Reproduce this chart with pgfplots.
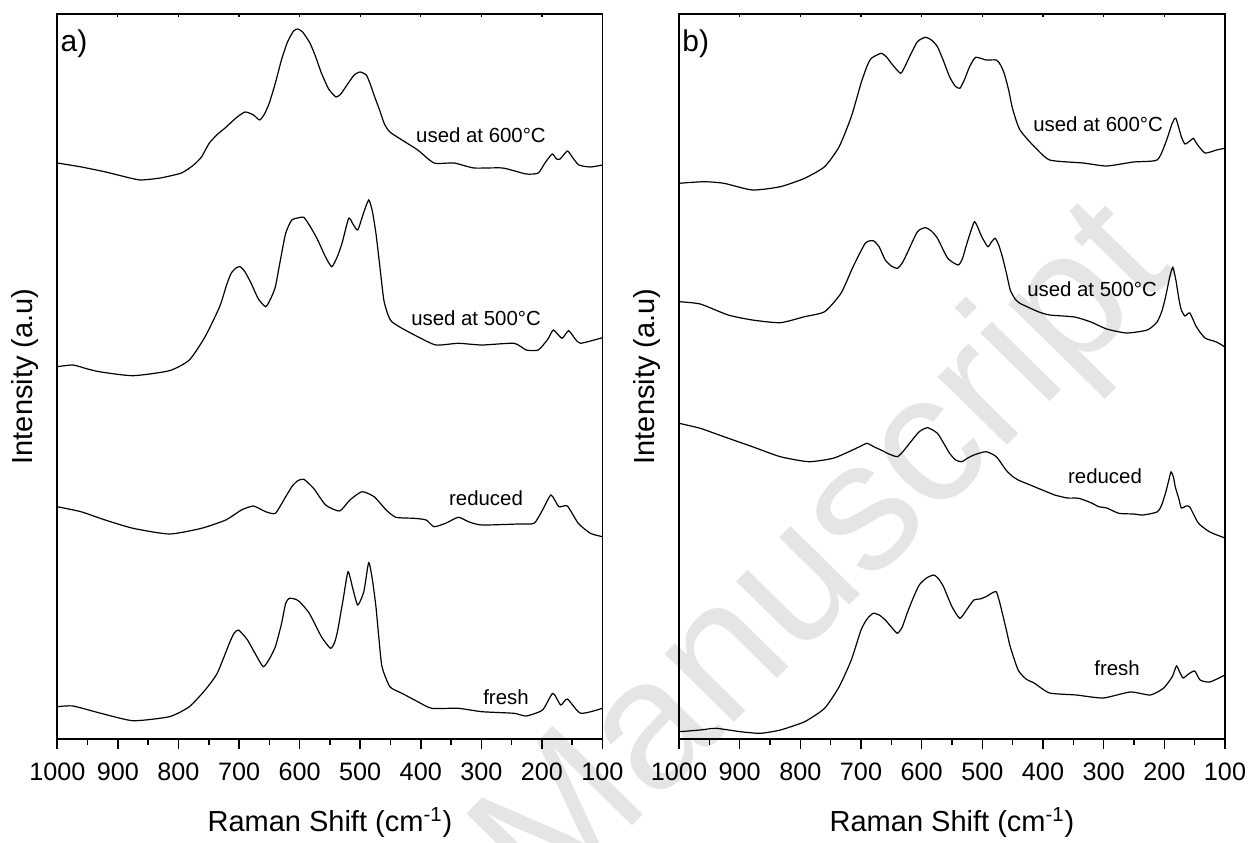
\documentclass[border=0pt]{standalone}
\usepackage{pgfplots}
\pgfplotsset{compat=1.18}
\usepackage{fontspec}
\setmainfont{Liberation Sans}
\begin{document}
\begin{tikzpicture}
\path[use as bounding box] (0,0) rectangle (625.5pt,421pt);
\node[anchor=base, rotate=45.5, text=black!10, font=\fontsize{92}{92}\selectfont, inner sep=0pt] at (431pt,124.5pt) {Manuscript};
\tikzset{
  lab/.style={anchor=base, font=\fontsize{10.2}{12}\selectfont, inner sep=0pt},
  pan/.style={anchor=base west, font=\fontsize{15}{17}\selectfont, inner sep=0pt, xshift=1.5pt, yshift=-19pt},
}
\pgfplotsset{
  spec/.style={
    scale only axis, height=362.5pt, anchor=south west,
    x dir=reverse, xmin=100, xmax=1000, ymin=0, ymax=725,
    xtick={100,200,...,1000}, minor x tick num=1,
    ytick=\empty, xtick pos=bottom,
    tick align=outside, major tick length=5pt, minor tick length=3pt,
    every tick/.style={black, line width=0.8pt},
    axis line style={line width=0.8pt},
    /pgf/number format/assume math mode=true,
    /pgf/number format/1000 sep={},
    xticklabel style={font=\fontsize{12.6}{14}\selectfont, anchor=base, yshift=-15.5pt},
    every axis x label/.style={at={(axis description cs:0.5,-0.1277)}, anchor=base, font=\fontsize{14.5}{16}\selectfont},
    xlabel={Raman Shift (cm\textsuperscript{-1})},
    ylabel={Intensity (a.u)},
    clip=false,
  },
  topticks/.style={
    scale only axis, height=362.5pt, anchor=south west,
    x dir=reverse, xmin=100, xmax=1000, ymin=0, ymax=725,
    xtick={100,200,...,1000}, xticklabels={}, ytick=\empty,
    xtick pos=top, tick align=inside, major tick length=1.5pt,
    every tick/.style={black, line width=0.6pt},
    axis line style={draw=none},
  },
  sp/.style={black, line width=0.6pt, smooth, tension=0.35},
}
% ---------------- panel a
\begin{axis}[topticks, at={(28.65pt,51.5pt)}, width=272.6pt]
\end{axis}
\begin{axis}[spec, at={(28.65pt,51.5pt)}, width=272.6pt,
  every axis y label/.style={at={(axis description cs:-0.0587,0.5)}, rotate=90, anchor=center, font=\fontsize{14.5}{16}\selectfont}]
\addplot[sp] coordinates {(1000,576) (960,572) (920,567) (880,561) (862,559) (830,561) (795,566) (775,574) (762,582) (749,596) (735,605) (723,611) (705,621) (690,627) (676,624) (666,619) (658,625) (650,636) (640,656) (630,679) (620,697) (610,708) (603,710) (595,707) (583,696) (574,683) (564,666) (552,650) (540,642) (532,645) (524,652) (510,664) (500,667) (490,664) (484,656) (476,642) (468,629) (460,615) (451,607) (431,599) (405,589) (378,576) (345,576) (312,571) (265,571) (226,565) (206,566) (195,576) (183,585) (176,580) (170,580) (158,588) (150,582) (139,574) (120,572) (100,574)};
\addplot[sp] coordinates {(1000,372.3) (974,374) (950,370) (928,367) (875,363.3) (815,368.3) (782,379) (756,402.3) (732,432.3) (720,455) (713,465.7) (705,471) (698,472.3) (690,467) (680,455.7) (668,440) (656,432.3) (648,440) (640,452.3) (632,478) (623,505.7) (613,519) (603,521) (593,521.7) (582,512) (570,499) (558,483) (547,472.3) (538,482) (530,495.7) (519,520.7) (512,515) (504,509) (495,525) (486,539) (480,528) (474,505.7) (468,475) (461,439) (454,424) (448,417.3) (431,410.7) (405,402.3) (375,394) (338,395.7) (299,394) (246,395.7) (226,389) (206,389) (190,400) (181,409) (167,400.7) (156,408.3) (145,400) (136,395.7) (100,401.3)};
\addplot[sp] coordinates {(1000,232.3) (961,227.3) (921,219) (875,210.7) (815,205) (762,210.7) (722,219) (696,229) (677,233) (665,230) (656,227.3) (640,225.7) (623,242.3) (612,253) (603,258.3) (593,259.7) (577,250.7) (557,234) (534,228) (517,239) (497,247.3) (477,242.3) (457,229) (441,221.7) (411,220.7) (391,219) (378,212.3) (358,216) (338,221.7) (320,217) (299,214) (239,215) (213,215.7) (199,229) (185,244) (172,232.3) (158,233) (140,215.7) (120,205.7) (100,202.3)};
\addplot[sp] coordinates {(1000,32.3) (974,33) (928,25.7) (875,18.3) (815,22.3) (782,32.3) (756,49) (736,65.7) (716,95.7) (708,106) (701,109) (694,105) (686,99) (672,84) (660,72.3) (650,80) (640,92.3) (630,115) (623,135.7) (617,140.7) (608,140) (600,137.3) (584,125.7) (564,102.3) (549,90.7) (542,97) (537,109) (528,140) (520,167.3) (512,150) (504,134) (494,147.3) (486,176.3) (480,160) (474,132.3) (469,100) (464,72.3) (451,52.3) (431,45.7) (405,37.3) (382,30.7) (338,30.7) (299,27.3) (246,25.7) (226,23) (199,29) (182,45.7) (169,34) (158,40) (136,25.7) (100,30.7)};
\node[lab] at (axis cs:300.6,596) {used at 600°C};
\node[lab] at (axis cs:308.8,414) {used at 500°C};
\node[lab] at (axis cs:292.3,234) {reduced};
\node[lab] at (axis cs:259.3,35) {fresh};
\node[pan] at (rel axis cs:0,1) {a)};
\end{axis}
% ---------------- panel b
\begin{axis}[topticks, at={(339.5pt,51.5pt)}, width=273pt]
\end{axis}
\begin{axis}[spec, at={(339.5pt,51.5pt)}, width=273pt,
  every axis y label/.style={at={(axis description cs:-0.0593,0.5)}, rotate=90, anchor=center, font=\fontsize{14.5}{16}\selectfont}]
\addplot[sp] coordinates {(1000,555.7) (959,557.3) (926,555.7) (879,549) (833,552.3) (793,560.7) (760,572.3) (736,592.3) (716,622.3) (700,655.7) (690,673) (683,680.7) (667,685.7) (658,682) (650,675.7) (635,665.7) (628,672) (620,682.3) (607,697.3) (594,701.7) (584,699) (574,692.3) (564,678) (554,662.3) (545,653) (537,650.7) (529,660) (521,672.3) (511,681.7) (494,679) (477,679) (470,674) (464,665.7) (457,650) (451,632.3) (444,618) (438,609) (426,600) (414,592.3) (389,579) (334,576) (295,573) (251,577) (212,579) (198,596) (187,615.7) (181,620.7) (172,602.3) (166,595) (158,598) (152,600.7) (147,595.7) (133,586) (114,589) (100,590.7)};
\addplot[sp] coordinates {(1000,437.3) (965,435) (919,424) (879,419) (833,416.3) (793,422.3) (760,427.3) (733,445.7) (713,472.3) (693,495.7) (680,498.3) (670,492) (660,479) (650,473) (640,470.7) (632,476) (624,485.7) (607,507.3) (594,511.3) (584,508) (574,500.7) (557,480.7) (540,474) (533,480) (527,492.3) (520,506) (513,517.3) (507,511) (501,502.3) (491,492.3) (485,497) (479,500.7) (473,494) (467,482.3) (460,465) (454,449) (446,440) (438,435.7) (408,427.3) (389,424) (348,422) (321,417) (295,410) (262,406) (228,409) (212,417) (204,428) (198,442) (191,462.3) (186,471.7) (181,459) (176,440) (172,429) (166,423) (158,426) (147,412) (133,401) (114,397) (100,392)};
\addplot[sp] coordinates {(1000,315.7) (965,310.7) (926,302.3) (879,292.3) (833,282.3) (786,277.3) (746,280.7) (720,287.3) (700,293) (690,295.7) (678,292) (667,289) (654,285) (640,282.3) (630,288) (620,295.7) (604,307.3) (590,311.3) (574,305.7) (564,296) (554,285.7) (544,279) (534,277.3) (524,281) (514,284) (494,287.3) (477,282.3) (461,269) (451,263) (441,259) (425,255) (408,250.7) (389,246) (381,244) (360,241) (341,240.7) (320,236) (308,232.3) (295,231) (275,225.7) (251,225) (235,224) (212,227) (205,233) (198,246) (193,258) (189,267) (185,262) (182,252.3) (176,240) (172,231) (164,233) (158,232) (144,216) (125,207) (100,201)};
\addplot[sp] coordinates {(1000,7.3) (965,9) (939,10.7) (899,7.3) (866,5.7) (833,9) (793,17.3) (760,30.7) (736,52.3) (716,79) (700,109) (690,120) (680,125.7) (670,124) (660,119) (650,112) (640,105.7) (632,112) (624,125.7) (614,141) (604,154) (592,161) (580,164) (572,160) (564,152.3) (550,132.3) (537,120.7) (525,130) (514,139) (504,140) (494,142.3) (484,146) (477,147.3) (472,138) (467,125.7) (460,108) (454,92.3) (441,69) (428,60) (414,55.7) (389,46) (345,44) (301,41) (256,47) (223,44) (201,51) (187,62.3) (180,73) (174,66) (169,61) (160,65) (150,68) (141,59) (125,57) (100,64)};
\node[lab] at (axis cs:309.3,607.5) {used at 600°C};
\node[lab] at (axis cs:319.2,443) {used at 500°C};
\node[lab] at (axis cs:297.8,256) {reduced};
\node[lab] at (axis cs:278,64) {fresh};
\node[pan] at (rel axis cs:0,1) {b)};
\end{axis}
\end{tikzpicture}
\end{document}
